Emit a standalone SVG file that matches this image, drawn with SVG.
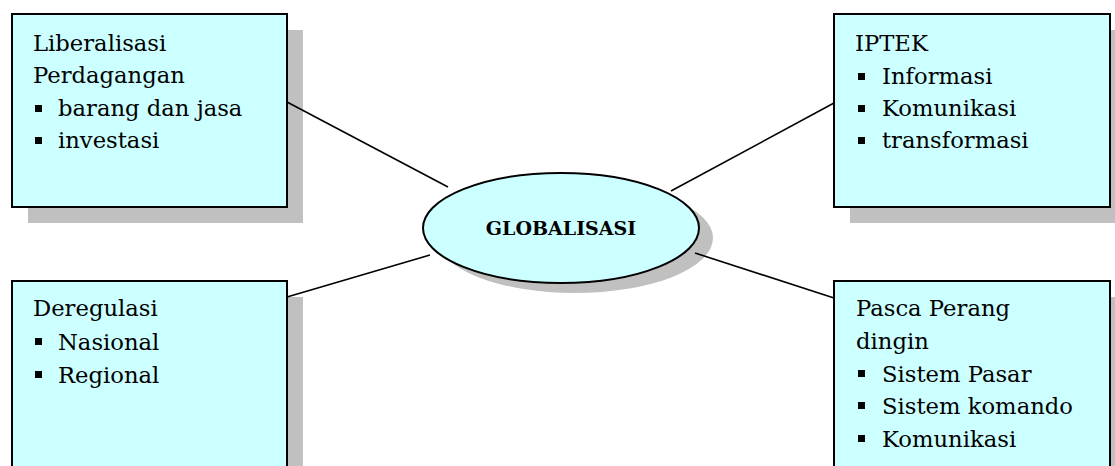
<svg xmlns="http://www.w3.org/2000/svg" width="1115" height="466" viewBox="0 0 1115 466">
<style>
.shadow{fill:#C0C0C0;stroke:none}
.box{fill:#CCFFFF;stroke:#000;stroke-width:2}
.t{font-family:"DejaVu Serif","Liberation Serif",serif;font-size:22.7px;fill:#000}
.title{font-family:"DejaVu Serif","Liberation Serif",serif;font-size:19px;font-weight:bold;fill:#000}
.conn{stroke:#000;stroke-width:1.6;fill:none}
.bul{fill:#000}
</style>
<defs>
<rect id="b" class="bul" x="0" y="0" width="7" height="7"/>
</defs>
<rect width="1115" height="466" fill="#fff"/>

<g id="node-liberalisasi">
<rect class="shadow" x="28" y="30" width="275" height="193"/>
<rect class="box" x="12" y="14" width="275" height="193"/>
<text class="t" x="33" y="51">Liberalisasi</text>
<text class="t" x="33" y="83">Perdagangan</text>
<use href="#b" x="35" y="105"/>
<text class="t" x="58" y="116">barang dan jasa</text>
<use href="#b" x="35" y="137"/>
<text class="t" x="58" y="148">investasi</text>
</g>

<g id="node-iptek">
<rect class="shadow" x="850" y="30" width="276" height="193"/>
<rect class="box" x="834" y="14" width="276" height="193"/>
<text class="t" x="855" y="51">IPTEK</text>
<use href="#b" x="858" y="73"/>
<text class="t" x="882" y="84">Informasi</text>
<use href="#b" x="858" y="105"/>
<text class="t" x="882" y="116">Komunikasi</text>
<use href="#b" x="858" y="137"/>
<text class="t" x="882" y="148">transformasi</text>
</g>

<g id="node-globalisasi">
<ellipse class="shadow" cx="575" cy="238" rx="138" ry="55"/>
<ellipse class="box" cx="561" cy="228" rx="138" ry="55"/>
<text class="title" x="561" y="235" text-anchor="middle">GLOBALISASI</text>
</g>

<g id="node-deregulasi">
<rect class="shadow" x="28" y="297" width="275" height="200"/>
<rect class="box" x="12" y="281" width="275" height="200"/>
<text class="t" x="33" y="316">Deregulasi</text>
<use href="#b" x="35" y="338"/>
<text class="t" x="58" y="350">Nasional</text>
<use href="#b" x="35" y="371"/>
<text class="t" x="58" y="383">Regional</text>
</g>

<g id="node-pasca">
<rect class="shadow" x="850" y="297" width="276" height="200"/>
<rect class="box" x="834" y="281" width="276" height="200"/>
<text class="t" x="856" y="316">Pasca Perang</text>
<text class="t" x="856" y="349">dingin</text>
<use href="#b" x="858" y="370"/>
<text class="t" x="882" y="382">Sistem Pasar</text>
<use href="#b" x="858" y="402"/>
<text class="t" x="882" y="414">Sistem komando</text>
<use href="#b" x="858" y="435"/>
<text class="t" x="882" y="447">Komunikasi</text>
</g>

<g id="connectors">
<line class="conn" x1="287" y1="102" x2="448" y2="187"/>
<line class="conn" x1="671" y1="191" x2="834" y2="103"/>
<line class="conn" x1="287" y1="297" x2="430" y2="255"/>
<line class="conn" x1="695" y1="253" x2="834" y2="298"/>
</g>
</svg>
